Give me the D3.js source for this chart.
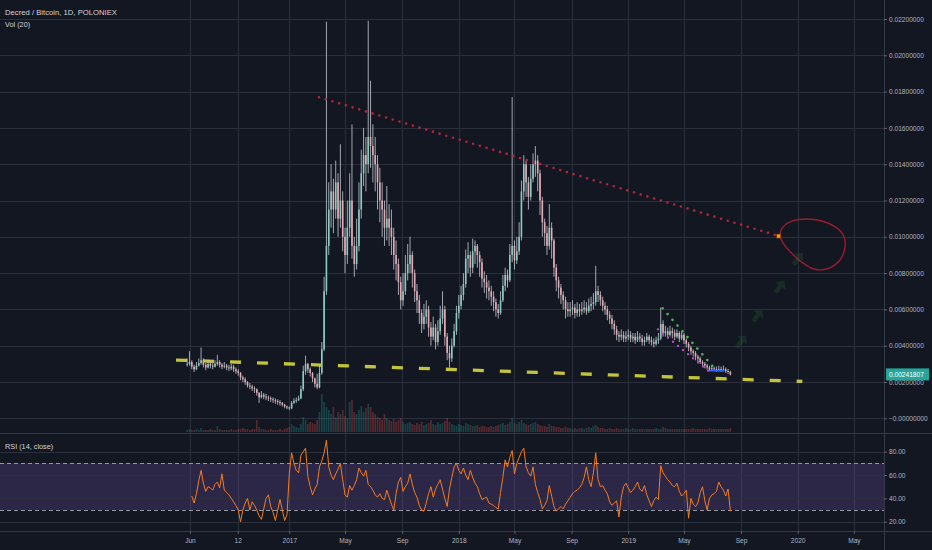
<!DOCTYPE html>
<html><head><meta charset="utf-8">
<script src="https://cdn.jsdelivr.net/npm/d3@7"></script>
<style>html,body{margin:0;padding:0;background:#131722;overflow:hidden}</style>
</head><body><svg id="c" width="932" height="550"></svg>
<script>
// ---------- DATA (5-day candles) ----------
const startDate = "2016-05-26";
const stepDays = 5;
const closes = [
.00300,.00310,.00285,.00270,.00290,.00305,.00320,.00295,.00280,.00300,
.00290,.00285,.00300,.00310,.00295,.00285,.00290,.00280,.00275,.00285,
.00270,.00260,.00250,.00225,.00215,.00200,.00180,.00175,.00165,.00160,
.00140,.00115,.00130,.00120,.00115,.00110,.00105,.00100,.00095,.00090,
.00085,.00075,.00065,.00060,.00055,.00085,.00095,.00100,.00110,.00160,
.00260,.00300,.00270,.00250,.00220,.00190,.00170,.00250,.00380,.00700,
.00950,.01150,.01250,.01150,.01300,.01100,.01200,.01000,.00900,.01050,
.01200,.00950,.00850,.00950,.01150,.01350,.01450,.01400,.01550,.01500,
.01450,.01400,.01300,.01200,.01150,.01050,.01100,.01050,.01000,.00900,
.00850,.00750,.00650,.00700,.00800,.00850,.00900,.00800,.00700,.00650,
.00580,.00520,.00560,.00600,.00500,.00450,.00500,.00420,.00480,.00550,
.00600,.00450,.00360,.00330,.00400,.00480,.00580,.00620,.00680,.00740,
.00880,.00900,.00830,.00920,.00950,.00900,.00860,.00770,.00750,.00720,
.00700,.00670,.00640,.00600,.00580,.00650,.00730,.00790,.00760,.00900,
.00950,.00870,.00920,.01000,.01250,.01400,.01300,.01220,.01320,.01400,
.01420,.01350,.01200,.01080,.01020,.00950,.01050,.00980,.00830,.00760,
.00720,.00680,.00650,.00600,.00590,.00600,.00610,.00580,.00600,.00590,
.00600,.00610,.00590,.00620,.00630,.00640,.00700,.00680,.00650,.00620,
.00600,.00570,.00550,.00520,.00490,.00460,.00450,.00460,.00440,.00450,
.00460,.00440,.00450,.00430,.00450,.00440,.00420,.00430,.00450,.00430,
.00420,.00410,.00430,.00440,.00520,.00470,.00480,.00460,.00480,.00470,
.00450,.00470,.00440,.00460,.00430,.00410,.00390,.00370,.00360,.00340,
.00330,.00310,.00300,.00290,.00280,.00270,.00275,.00270,.00265,.00270,
.00265,.00270,.00260,.00255,.00241807];
const highs = [
.00330,.00370,.00320,.00295,.00310,.00330,.00390,.00330,.00305,.00320,
.00315,.00305,.00320,.00350,.00320,.00305,.00310,.00300,.00295,.00300,
.00295,.00280,.00270,.00255,.00235,.00225,.00205,.00195,.00185,.00175,
.00165,.00145,.00150,.00140,.00135,.00125,.00120,.00115,.00110,.00105,
.00100,.00090,.00080,.00070,.00065,.00095,.00110,.00115,.00125,.00180,
.00290,.00345,.00305,.00280,.00255,.00225,.00245,.00290,.00420,.00780,
.02185,.01300,.01400,.01320,.01420,.01350,.01510,.01250,.01050,.01200,
.01350,.01620,.01000,.01100,.01300,.01480,.01600,.01550,.02190,.01860,
.01620,.01550,.01450,.01380,.01300,.01200,.01280,.01180,.01150,.01050,
.00980,.00880,.00780,.00800,.00900,.00960,.01000,.00920,.00820,.00740,
.00680,.00600,.00630,.00650,.00620,.00530,.00560,.00520,.00540,.00620,
.00700,.00620,.00470,.00400,.00440,.00520,.00620,.00680,.00730,.00800,
.00930,.00970,.00920,.00990,.00980,.00960,.00920,.00880,.00810,.00790,
.00760,.00730,.00700,.00660,.00630,.00700,.00790,.00830,.00820,.00960,
.01770,.00980,.01000,.01080,.01310,.01450,.01420,.01330,.01400,.01460,
.01500,.01450,.01370,.01220,.01100,.01060,.01180,.01080,.00990,.00850,
.00780,.00740,.00700,.00670,.00640,.00640,.00650,.00630,.00640,.00630,
.00640,.00650,.00640,.00660,.00670,.00690,.00840,.00730,.00700,.00670,
.00640,.00620,.00590,.00570,.00540,.00510,.00480,.00490,.00480,.00480,
.00490,.00480,.00470,.00470,.00480,.00470,.00460,.00450,.00470,.00460,
.00450,.00440,.00450,.00470,.00610,.00540,.00510,.00500,.00510,.00500,
.00490,.00490,.00480,.00480,.00470,.00440,.00420,.00400,.00380,.00370,
.00350,.00340,.00320,.00310,.00300,.00290,.00290,.00285,.00285,.00290,
.00285,.00290,.00280,.00272,.00262];
const lows = [
.00285,.00290,.00270,.00255,.00265,.00285,.00295,.00280,.00265,.00275,
.00275,.00270,.00280,.00290,.00280,.00270,.00275,.00265,.00260,.00265,
.00255,.00245,.00235,.00210,.00200,.00185,.00170,.00160,.00150,.00140,
.00125,.00085,.00110,.00105,.00100,.00095,.00090,.00085,.00080,.00075,
.00070,.00065,.00055,.00050,.00046,.00050,.00080,.00085,.00095,.00105,
.00150,.00240,.00250,.00230,.00200,.00170,.00160,.00165,.00240,.00370,
.00680,.00900,.01050,.01020,.01100,.01000,.01050,.00920,.00800,.00850,
.01000,.00880,.00780,.00820,.00920,.01100,.01280,.01250,.01350,.01380,
.01300,.01250,.01150,.01080,.01000,.00950,.00980,.00950,.00900,.00820,
.00760,.00680,.00600,.00620,.00680,.00760,.00800,.00720,.00640,.00580,
.00520,.00470,.00490,.00520,.00450,.00400,.00430,.00380,.00400,.00460,
.00520,.00400,.00320,.00280,.00310,.00390,.00460,.00550,.00600,.00650,
.00720,.00800,.00780,.00800,.00850,.00830,.00780,.00720,.00690,.00660,
.00650,.00620,.00590,.00560,.00550,.00570,.00640,.00700,.00720,.00750,
.00860,.00820,.00850,.00900,.00980,.01200,.01220,.01150,.01200,.01300,
.01330,.01250,.01120,.01000,.00950,.00900,.00930,.00880,.00780,.00700,
.00660,.00630,.00600,.00550,.00560,.00560,.00570,.00550,.00560,.00560,
.00570,.00580,.00570,.00580,.00590,.00600,.00620,.00640,.00620,.00590,
.00570,.00540,.00520,.00490,.00460,.00430,.00420,.00430,.00420,.00420,
.00430,.00420,.00420,.00410,.00420,.00420,.00400,.00400,.00420,.00410,
.00400,.00390,.00400,.00410,.00430,.00450,.00450,.00440,.00450,.00440,
.00430,.00440,.00420,.00430,.00410,.00390,.00370,.00350,.00340,.00320,
.00310,.00300,.00285,.00275,.00268,.00260,.00262,.00260,.00255,.00258,
.00255,.00258,.00250,.00245,.00236];
const volumes = [
2,3,2,2,3,2,4,2,2,2,3,2,2,6,3,2,2,2,2,3,2,2,3,
3,4,3,3,2,3,3,12,5,3,3,2,2,3,2,2,2,3,2,3,4,5,8,6,5,4,
8,15,12,8,10,9,8,12,20,38,30,25,
22,18,25,15,20,18,22,16,14,30,32,20,18,22,26,20,24,28,25,20,18,15,14,12,18,14,12,11,13,10,
12,14,10,8,9,10,8,7,9,8,10,7,8,9,12,8,7,10,8,9,11,14,10,8,7,6,8,7,6,9,8,7,6,6,7,5,6,6,5,5,6,5,6,7,8,9,7,8,10,14,
9,8,10,12,9,8,7,8,9,10,8,7,6,6,5,8,6,6,5,5,4,4,5,4,4,3,4,3,4,4,3,4,5,4,6,7,5,4,4,3,
3,4,3,3,4,3,3,3,4,3,3,4,3,3,3,3,3,3,3,3,3,4,3,3,5,4,3,3,3,3,3,3,3,3,3,3,3,4,3,3,
3,3,3,3,4,3,3,3,3,3,3,3,3,4];
const rsi = [
null,null,42,36,44,55,64,53,46,50,
49,47,52,54,49,61,47,45,43,40,
37,34,30,20,30,36,40,30,37,34,
30,25,22,31,40,43,33,28,21,30,
39,30,21,26,61,79,70,64,62,77,
80,83,59,50,43,48,52,67,72,79,
90,67,60,56,61,65,70,56,43,41,
51,47,51,56,66,62,59,64,52,50,
47,43,41,44,40,39,47,41,35,30,
44,54,58,46,50,53,61,52,45,41,
34,30,29,36,44,50,41,48,52,56,
48,40,33,48,58,67,70,64,61,66,
60,56,64,58,53,50,44,39,40,41,
36,35,34,32,31,45,58,73,67,75,
81,61,70,75,80,83,67,62,59,67,
52,45,39,31,34,38,51,42,33,29,
31,33,31,35,38,41,44,46,47,49,
52,58,67,56,50,62,79,56,50,51,
47,44,37,34,36,38,24,41,50,53,
49,45,47,50,54,48,46,51,43,38,
33,38,41,39,68,62,59,56,54,51,
50,53,46,42,44,47,23,40,35,33,
36,45,50,38,30,40,43,44,46,54,
50,47,42,48,29];
const priceTicks = [0,0.002,0.004,0.006,0.008,0.010,0.012,0.014,0.016,0.018,0.020,0.022];
const rsiTicks = [20,40,60,80];
const rsiBands = [70,30];
const timeTicks = ["2016-06-01","2016-09-12","2017-01-01","2017-05-01","2017-09-01","2018-01-01","2018-05-01","2018-09-01","2019-01-01","2019-05-01","2019-09-01","2020-01-01","2020-05-01"];
const timeLabels = ["Jun","12","2017","May","Sep","2018","May","Sep","2019","May","Sep","2020","May"];
const lastPrice = 0.00241807;
// drawings
const redTrend = [["2017-03-06",0.01769],["2019-11-21",0.01004]];
const yellowTrend = [["2016-05-02",0.00321],["2020-01-11",0.00203]];
const greenTrend = [["2019-03-16",0.00606],["2019-07-04",0.00280]];
const magentaTrend = [["2019-03-06",0.00490],["2019-06-29",0.00248]];
const blueTrend = [["2019-06-25",0.00262],["2019-07-27",0.00262]];
const arrowMarks = [["2019-09-01",0.00422],["2019-10-06",0.00564],["2019-11-23",0.00723],["2020-01-01",0.00878]];
const circleBase = "2017-01-01";
const circleDays = [1057,1064,1085,1114,1147,1175,1193,1197,1186,1161,1132,1107,1082,1064];
const circlePrices = [0.01010,0.01056,0.01089,0.01098,0.01087,0.01056,0.01010,0.00946,0.00872,0.00826,0.00821,0.00854,0.00909,0.00964];

// ---------- CHART ----------
const W = 932, H = 550, plotR = 884, mainB = 433, rsiT = 434, rsiB = 531;
const bg = "#131722", gridC = "#2b2f3b", axisTxt = "#b2b5be";
const font = "'Liberation Sans', Arial, sans-serif";
const parse = d3.utcParse("%Y-%m-%d");
const x = d3.scaleUtc().domain([parse("2017-01-01"), parse("2020-01-01")]).range([289.3, 797.7]);
const y = d3.scaleLinear().domain([0, 0.022]).range([418.3, 19]);
const yR = d3.scaleLinear().domain([20, 80]).range([521.7, 451.7]);
const yV = d3.scaleLinear().domain([0, 50]).range([432, 382]);

const svg = d3.select("#c");
svg.append("rect").attr("width", W).attr("height", H).attr("fill", bg);
const defs = svg.append("defs");
defs.append("clipPath").attr("id","cm").append("rect").attr("x",0).attr("y",0).attr("width",plotR).attr("height",mainB);
defs.append("clipPath").attr("id","cr").append("rect").attr("x",0).attr("y",rsiT).attr("width",plotR).attr("height",rsiB-rsiT);

// grid
const grid = svg.append("g");
grid.selectAll(".vg").data(timeTicks).join("line")
  .attr("x1", d => Math.round(x(parse(d)))+0.5).attr("x2", d => Math.round(x(parse(d)))+0.5)
  .attr("y1", 0).attr("y2", rsiB).attr("stroke", gridC);
grid.selectAll(".hg").data(priceTicks).join("line")
  .attr("x1", 0).attr("x2", plotR).attr("y1", d => Math.round(y(d))+0.5).attr("y2", d => Math.round(y(d))+0.5)
  .attr("stroke", gridC);

// RSI pane background band
const rsiG = svg.append("g").attr("clip-path","url(#cr)");
rsiG.append("rect").attr("x",0).attr("width",plotR).attr("y",yR(70)).attr("height",yR(30)-yR(70))
  .attr("fill","#7e57c2").attr("opacity",0.24);
rsiG.selectAll(".rg").data(rsiTicks).join("line")
  .attr("x1",0).attr("x2",plotR).attr("y1",d=>Math.round(yR(d))+0.5).attr("y2",d=>Math.round(yR(d))+0.5)
  .attr("stroke",gridC);
rsiG.selectAll(".rb").data(rsiBands).join("line")
  .attr("x1",0).attr("x2",plotR).attr("y1",d=>Math.round(yR(d))+0.5).attr("y2",d=>Math.round(yR(d))+0.5)
  .attr("stroke","#9598a1").attr("stroke-dasharray","4,3");

// candles data
const base = parse(startDate);
const bars = closes.map((c, i) => {
  const o = i > 0 ? closes[i-1] : c;
  return {date: d3.utcDay.offset(base, i*stepDays), o, c,
    h: Math.max(highs[i], o, c), l: Math.min(lows[i], o, c), v: volumes[i], r: rsi[i]};
});

const mainG = svg.append("g").attr("clip-path","url(#cm)");
// volume
mainG.selectAll(".vol").data(bars).join("rect")
  .attr("x", d => x(d.date)-0.85).attr("width", 1.7)
  .attr("y", d => yV(d.v)).attr("height", d => yV(0)-yV(d.v))
  .attr("fill", d => d.c >= d.o ? "#26a69a" : "#ef5350").attr("opacity", 0.3);

// drawings behind candles
const pt = d => [x(parse(d[0])), y(d[1])];
const lineGen = d3.line();
mainG.append("path").attr("d", lineGen(yellowTrend.map(pt))).attr("fill","none")
  .attr("stroke","#c4c43a").attr("stroke-width",3.3).attr("stroke-dasharray","11,16");

// wicks + bodies
mainG.selectAll(".wick").data(bars).join("line")
  .attr("x1", d => x(d.date)).attr("x2", d => x(d.date))
  .attr("y1", d => y(d.h)).attr("y2", d => y(d.l))
  .attr("stroke", "#c8cbd3").attr("stroke-width", 0.8);
mainG.selectAll(".body").data(bars).join("rect")
  .attr("x", d => x(d.date)-0.8).attr("width", 1.6)
  .attr("y", d => y(Math.max(d.o, d.c)))
  .attr("height", d => Math.max(0.8, Math.abs(y(d.o)-y(d.c))))
  .attr("fill", d => d.c >= d.o ? "#86cdc4" : "#e9a9b1");

// other drawings
mainG.append("path").attr("d", lineGen(redTrend.map(pt))).attr("fill","none")
  .attr("stroke","#b0263b").attr("stroke-width",2.6).attr("stroke-linecap","round").attr("stroke-dasharray","0,7");
mainG.append("path").attr("d", lineGen(greenTrend.map(pt))).attr("fill","none")
  .attr("stroke","#4caf50").attr("stroke-width",2.8).attr("stroke-linecap","round").attr("stroke-dasharray","0,7.6");
mainG.append("path").attr("d", lineGen(magentaTrend.map(pt))).attr("fill","none")
  .attr("stroke","#c046c8").attr("stroke-width",2.4).attr("stroke-linecap","round").attr("stroke-dasharray","0,6.5");
mainG.append("path").attr("d", lineGen(blueTrend.map(pt))).attr("fill","none")
  .attr("stroke","#2962ff").attr("stroke-width",1.5);
const cbase = parse(circleBase);
const circPts = circleDays.map((d,i) => [x(d3.utcDay.offset(cbase, d)), y(circlePrices[i])]);
mainG.append("path").attr("d", d3.line().curve(d3.curveCardinalClosed)(circPts)).attr("fill","none")
  .attr("stroke","#9c1c2c").attr("stroke-width",1.4);
const re = pt(redTrend[1]);
mainG.append("rect").attr("x", re[0]-2).attr("y", re[1]-2).attr("width",4).attr("height",4)
  .attr("fill","#ff9800").attr("stroke","#7a3a10").attr("stroke-width",0.6);
mainG.selectAll(".arr").data(arrowMarks).join("path")
  .attr("transform", d => { const p = pt(d); return `translate(${p[0]},${p[1]}) rotate(38)`; })
  .attr("d","M0,-8 L6.5,-1.5 L2.3,-1.5 L2.3,7 L-2.3,7 L-2.3,-1.5 L-6.5,-1.5 Z")
  .attr("fill","#2e7d32").attr("opacity",0.22);

// RSI line
rsiG.append("path").datum(bars).attr("fill","none").attr("stroke","#f57c20").attr("stroke-width",1)
  .attr("d", d3.line().defined(d => d.r != null).x(d => x(d.date)).y(d => yR(d.r)));

// separators
svg.append("line").attr("x1",0).attr("x2",W).attr("y1",mainB+0.5).attr("y2",mainB+0.5).attr("stroke","#363a45");
svg.append("line").attr("x1",0).attr("x2",W).attr("y1",rsiB+0.5).attr("y2",rsiB+0.5).attr("stroke","#363a45");
svg.append("line").attr("x1",plotR+0.5).attr("x2",plotR+0.5).attr("y1",0).attr("y2",H).attr("stroke","#363a45");

// axes
function styleAxis(g){
  g.select(".domain").remove();
  g.selectAll(".tick line").attr("stroke","#5d606b");
  g.selectAll(".tick text").attr("fill",axisTxt).attr("font-family",font).attr("font-size","6.6px");
}
svg.append("g").attr("transform",`translate(${plotR},0)`)
  .call(d3.axisRight(y).tickValues(priceTicks).tickSize(3).tickPadding(2)
    .tickFormat(d => d === 0 ? "\u22120.00000000" : d.toFixed(8)))
  .call(styleAxis);
svg.append("g").attr("transform",`translate(${plotR},0)`)
  .call(d3.axisRight(yR).tickValues(rsiTicks).tickSize(3).tickPadding(2).tickFormat(d => d.toFixed(2)))
  .call(styleAxis);
svg.append("g").attr("transform",`translate(0,${rsiB})`)
  .call(d3.axisBottom(x).tickValues(timeTicks.map(parse)).tickSize(3).tickPadding(4)
    .tickFormat((d,i) => timeLabels[i]))
  .call(styleAxis);

// last price label
const ly = y(lastPrice);
svg.append("rect").attr("x",plotR+2).attr("y",ly-6).attr("width",43).attr("height",12).attr("fill","#26a69a");
svg.append("text").attr("x",plotR+5).attr("y",ly+2.3).attr("fill","#ffffff")
  .attr("font-family",font).attr("font-size","6.6px").text(lastPrice.toFixed(8));

// titles
const tt = svg.append("g").attr("font-family",font).attr("fill","#d1d4dc");
tt.append("text").attr("x",5).attr("y",14.5).attr("font-size","7.7px").text("Decred / Bitcoin, 1D, POLONIEX");
tt.append("text").attr("x",5).attr("y",27).attr("font-size","7.3px").text("Vol (20)");
tt.append("text").attr("x",5).attr("y",448.5).attr("font-size","7.3px").text("RSI (14, close)");
</script></body></html>
